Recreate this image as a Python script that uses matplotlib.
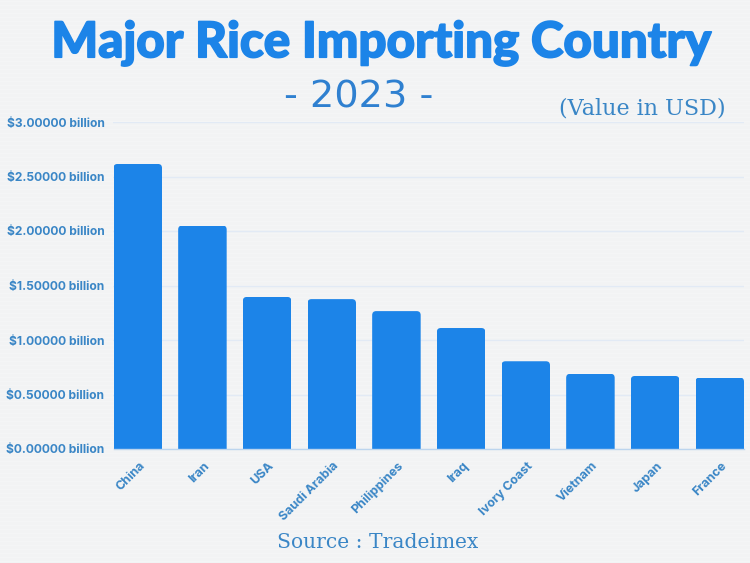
import matplotlib
matplotlib.use('Agg')
import matplotlib.pyplot as plt
import matplotlib.patheffects as pe
from matplotlib.lines import Line2D
from matplotlib.patches import FancyBboxPatch
from matplotlib.transforms import ScaledTranslation

countries = ['China', 'Iran', 'USA', 'Saudi Arabia', 'Philippines', 'Iraq',
             'Ivory Coast', 'Vietnam', 'Japan', 'France']
values = [2.615, 2.05, 1.395, 1.375, 1.265, 1.11, 0.805, 0.69, 0.67, 0.655]
yticks = [0, 0.5, 1.0, 1.5, 2.0, 2.5, 3.0]

BLUE = '#1c84e8'
MUTED = '#3a86c6'
W, H = 750, 563

fig = plt.figure(figsize=(W / 100, H / 100), dpi=100, facecolor='#f2f3f4')

# faint paper weave behind everything
for py in range(1, H, 4):
    fig.add_artist(Line2D([0, 1], [1 - py / H] * 2, color='white', lw=0.7, alpha=0.22, zorder=-5))

ax = fig.add_axes([113.5 / W, 1 - 449 / H, 630.5 / W, 327 / H])
ax.set_facecolor('none')

bar_w = 0.75
bars = ax.bar(range(len(values)), values, width=bar_w, color=BLUE, zorder=3)
ax.set_xlim(-bar_w / 2, len(values) - 1 + bar_w / 2)
ax.set_ylim(0, 3)

# round the top corners by clipping each bar
x_per_px = (9 + bar_w) / 630.5
y_per_px = 3 / 327
for b in bars:
    clip = FancyBboxPatch((b.get_x(), -0.1), b.get_width(), b.get_height() + 0.1,
                          boxstyle='round,pad=0,rounding_size=%f' % (4 * x_per_px),
                          mutation_aspect=y_per_px / x_per_px,
                          transform=ax.transData)
    b.set_clip_path(clip)

ax.set_yticks(yticks)
ax.set_yticklabels(['$%.5f billion' % t for t in yticks], parse_math=False,
                   family='Inter', weight='bold', fontsize=8.7, color=MUTED)
ax.grid(axis='y', color='#e2eaf5', lw=1, zorder=0)
ax.tick_params(axis='both', length=0)
ax.tick_params(axis='y', pad=6.5)
for name, s in ax.spines.items():
    s.set_visible(False)
ax.spines['bottom'].set_visible(True)
ax.spines['bottom'].set_color('#bcd5ee')
ax.spines['bottom'].set_linewidth(1)
ax.spines['bottom'].set_zorder(4)

ax.set_xticks(range(len(values)))
ax.set_xticklabels(countries, rotation=45, ha='right', va='top', rotation_mode='anchor',
                   family='Inter', weight='bold', fontsize=9, color=MUTED)
offset = ScaledTranslation(1 / 100, -6 / 100, fig.dpi_scale_trans)
for lab in ax.get_xticklabels():
    lab.set_transform(lab.get_transform() + offset)

title = fig.text(381 / W, 1 - 43 / H, 'Major Rice Importing Country', ha='center', va='center',
                 family='Lato', weight='black', fontsize=35.5, color=BLUE)
title.set_path_effects([pe.withStroke(linewidth=1.2, foreground=BLUE)])
fig.text(358.5 / W, 1 - 97.5 / H, '- 2023 -', ha='center', va='center',
         family='DejaVu Sans', fontsize=27.5, color='#2f80d0')
fig.text(642 / W, 1 - 109 / H, '(Value in USD)', ha='center', va='center',
         family='DejaVu Serif', fontsize=16, color=MUTED)
fig.text(378 / W, 1 - 542 / H, 'Source : Tradeimex', ha='center', va='center',
         family='DejaVu Serif', fontsize=14.6, color=MUTED)

fig.savefig('out.png', dpi=100, facecolor=fig.get_facecolor())
